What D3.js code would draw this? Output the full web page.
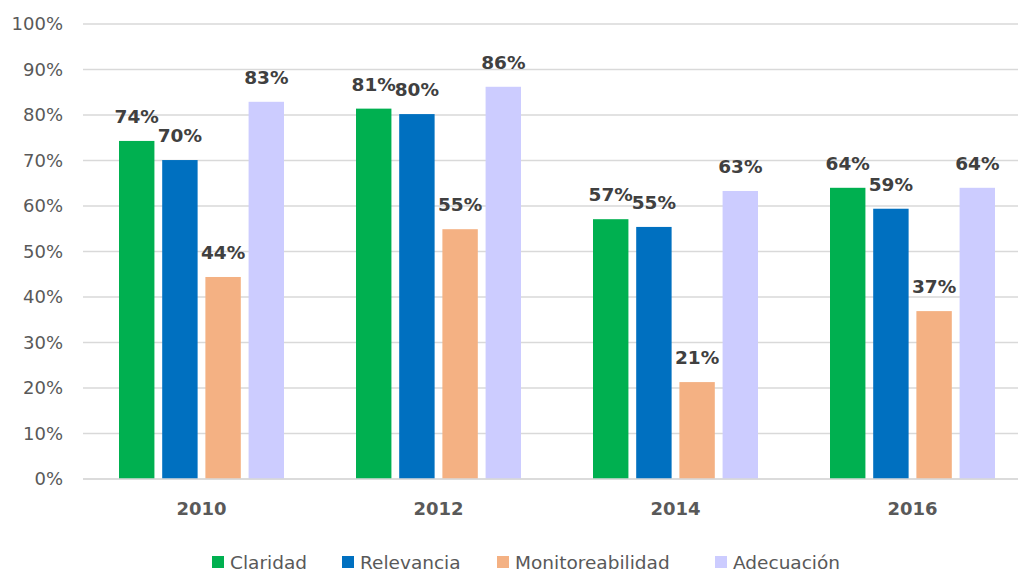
<!DOCTYPE html>
<html><head><meta charset="utf-8">
<script src="https://cdn.jsdelivr.net/npm/d3@7"></script>
<style>body{margin:0;background:#fff;}svg{display:block;font-family:"DejaVu Sans","Open Sans",sans-serif;}</style>
</head><body>
<svg id="c" width="1018" height="571"></svg>
<script>
const years = ["2010","2012","2014","2016"];
const series = ["Claridad","Relevancia","Monitoreabilidad","Adecuación"];
const claridad = [0.743, 0.814, 0.571, 0.640];
const relevancia = [0.701, 0.802, 0.554, 0.594];
const monitoreabilidad = [0.444, 0.549, 0.213, 0.369];
const adecuacion = [0.829, 0.862, 0.633, 0.640];
const colors = ["#00B050","#0070C0","#F4B183","#CCCCFF"];
const yTicks = [0,0.1,0.2,0.3,0.4,0.5,0.6,0.7,0.8,0.9,1.0];

const values = [claridad, relevancia, monitoreabilidad, adecuacion];
const svg = d3.select("#c");
const y = d3.scaleLinear().domain([0,1]).range([479,24]);
const x0 = d3.scaleBand().domain(years).range([83,1031]);
const x1 = d3.scaleBand().domain(series).range([36,201]).paddingInner(0.18);

svg.append("g").selectAll("line").data(yTicks).join("line")
  .attr("x1",83).attr("x2",1018)
  .attr("y1",d=>y(d)).attr("y2",d=>y(d))
  .attr("stroke","#d9d9d9").attr("stroke-width",1.3);

svg.append("g").selectAll("text").data(yTicks).join("text")
  .attr("x",63).attr("y",d=>y(d)).attr("dy","0.36em")
  .attr("text-anchor","end").attr("fill","#595959")
  .attr("font-size",18).text(d=>d3.format(".0%")(d));

const groups = svg.append("g").selectAll("g").data(years).join("g")
  .attr("transform",d=>`translate(${x0(d)},0)`);

series.forEach((s,si)=>{
  groups.append("rect")
    .attr("x",x1(s)).attr("width",x1.bandwidth())
    .attr("y",(d,i)=>y(values[si][i]))
    .attr("height",(d,i)=>y(0)-y(values[si][i]))
    .attr("fill",colors[si]);
  groups.append("text")
    .attr("x",x1(s)+x1.bandwidth()/2)
    .attr("y",(d,i)=>y(values[si][i])-18)
    .attr("text-anchor","middle").attr("fill","#404040")
    .attr("font-size",18.5).attr("font-weight","bold")
    .text((d,i)=>d3.format(".0%")(values[si][i]));
});

svg.append("line").attr("x1",83).attr("x2",1018).attr("y1",y(0)).attr("y2",y(0))
  .attr("stroke","#d9d9d9").attr("stroke-width",1.3);

svg.append("g").selectAll("text").data(years).join("text")
  .attr("x",d=>x0(d)+x0.bandwidth()/2).attr("y",509).attr("dy","0.36em")
  .attr("text-anchor","middle").attr("fill","#595959")
  .attr("font-size",18).attr("font-weight","bold").text(d=>d);

const legX = [212, 342, 497, 715];
const leg = svg.append("g").selectAll("g").data(series).join("g")
  .attr("transform",(d,i)=>`translate(${legX[i]},562)`);
leg.append("rect").attr("x",0).attr("y",-6).attr("width",12).attr("height",12)
  .attr("fill",(d,i)=>colors[i]);
leg.append("text").attr("x",18).attr("y",0).attr("dy","0.36em")
  .attr("fill","#595959").attr("font-size",18.5).text(d=>d);
</script>
</body></html>
